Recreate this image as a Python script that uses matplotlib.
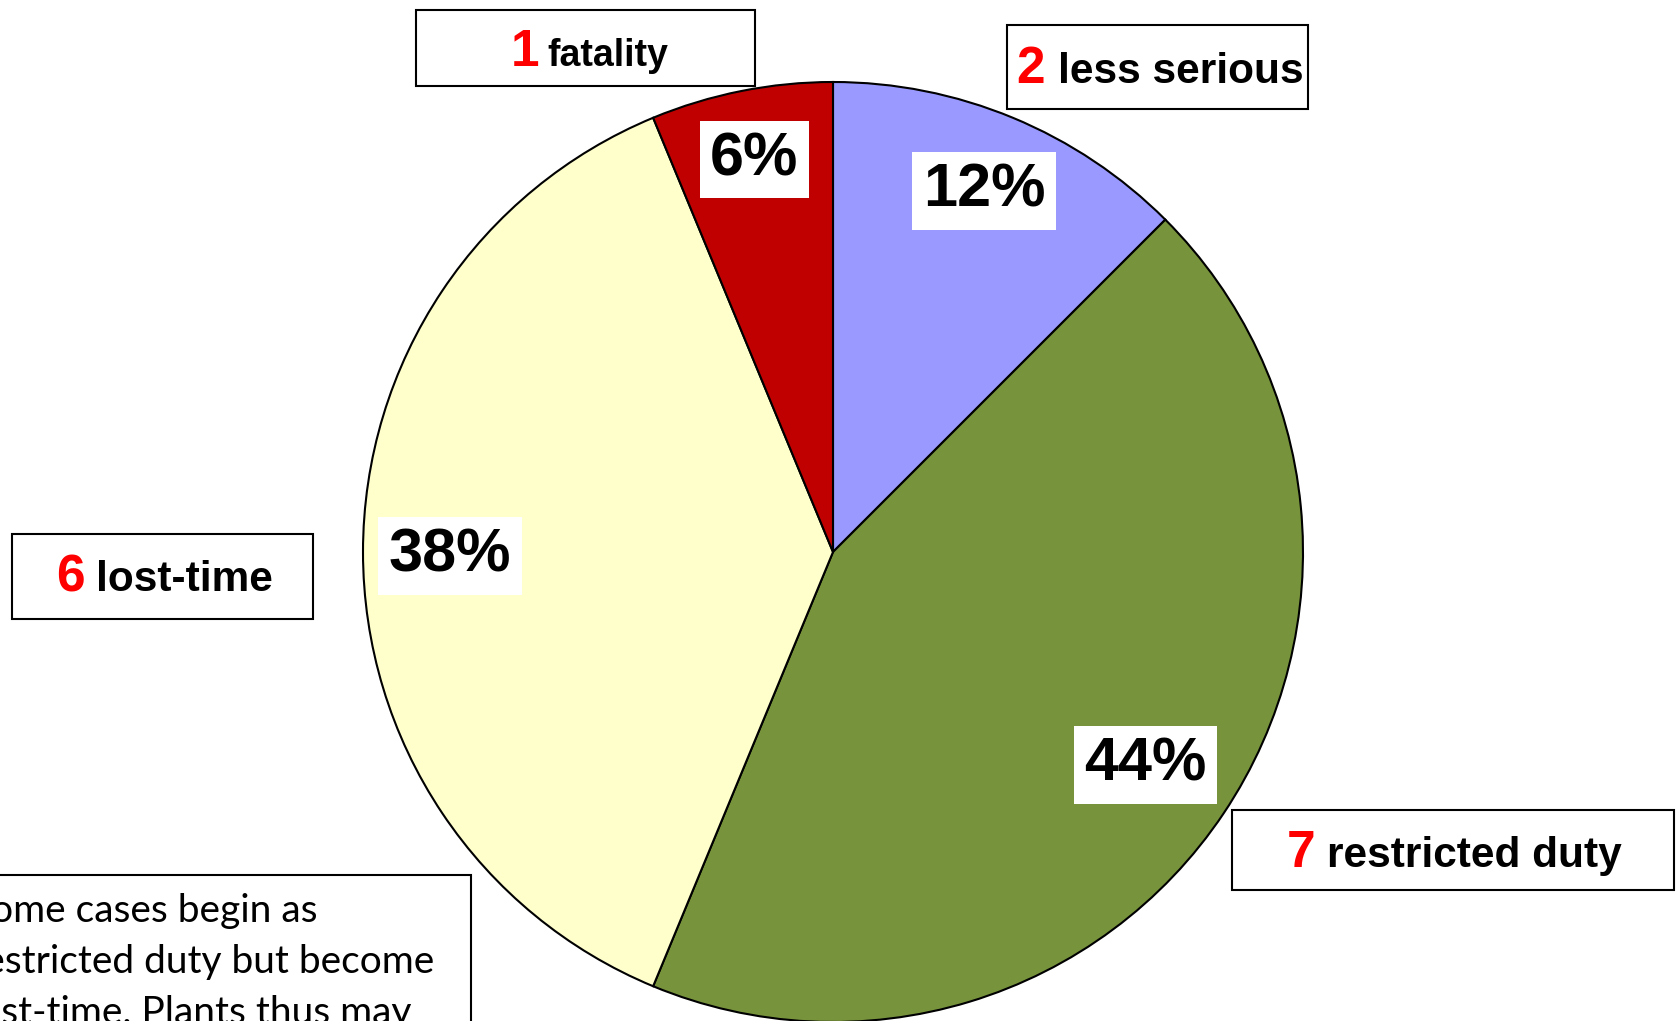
import numpy as np
import matplotlib.pyplot as plt
from matplotlib.patches import Rectangle

W, H = 1677, 1021
plt.rcParams['font.family'] = ['Liberation Sans', 'DejaVu Sans']

# data
labels = ["less serious", "restricted duty", "lost-time", "fatality"]
counts = [2, 7, 6, 1]
colors = ["#9999FF", "#77933C", "#FFFFCC", "#C00000"]
note_lines = ["Some cases begin as", "restricted duty but become", "lost-time. Plants thus may"]

# layout (pixels from top-left)
pct_dist = [0.84, 0.80, 0.815, 0.86]
boxes = {  # x0, x1, y0, y1, number x, word x, baseline, word size
    "less serious": (1007, 1308, 25, 109, 1016, 1058, 83, 30.5),
    "restricted duty": (1232, 1674, 810, 890, 1287, 1327, 867, 30.5),
    "lost-time": (12, 313, 534, 619, 56, 96, 591, 30.5),
    "fatality": (416, 755, 10, 86, 511, 547, 66, 27),
}

fig = plt.figure(figsize=(W / 100, H / 100), dpi=100)
ax = fig.add_axes([0, 0, 1, 1])

cx, cy, r = 833, H - 552, 470
wedges, texts, autotexts = ax.pie(
    counts, colors=colors, startangle=90, counterclock=False,
    center=(cx, cy), radius=r, autopct='%1.0f%%', pctdistance=0.82,
    wedgeprops=dict(edgecolor='black', linewidth=1.5),
    textprops=dict(fontsize=44, fontweight='bold', color='black'))

for w, t, d in zip(wedges, autotexts, pct_dist):
    ang = np.deg2rad((w.theta1 + w.theta2) / 2)
    t.set_position((cx + d * r * np.cos(ang), cy + d * r * np.sin(ang) - 4))
    t.set_bbox(dict(facecolor='white', edgecolor='none', pad=0.17, boxstyle='square'))

# label boxes
for lab, n in zip(labels, counts):
    x0, x1, y0, y1, nx, wx, base, ws = boxes[lab]
    ax.add_patch(Rectangle((x0, H - y1), x1 - x0, y1 - y0, facecolor='white',
                           edgecolor='black', linewidth=1.5, zorder=3))
    ax.text(nx, H - base, str(n), color='#FF0000', fontsize=37, fontweight='bold',
            ha='left', va='baseline', zorder=4)
    ax.text(wx, H - base, lab, color='black', fontsize=ws, fontweight='bold',
            ha='left', va='baseline', zorder=4)

# note box at bottom left (cut off by the figure edge, as in the original slide)
ax.add_patch(Rectangle((-10, H - 1040), 481, 1040 - 875, facecolor='white',
                       edgecolor='black', linewidth=1.5, zorder=3))
for i, line in enumerate(note_lines):
    ax.text(-30, H - (922 + 51 * i), line, fontsize=28, family=['Lato', 'DejaVu Sans'],
            ha='left', va='baseline', zorder=4)

ax.set_xlim(0, W)
ax.set_ylim(0, H)
ax.axis('off')

fig.savefig("out.png", dpi=100)
